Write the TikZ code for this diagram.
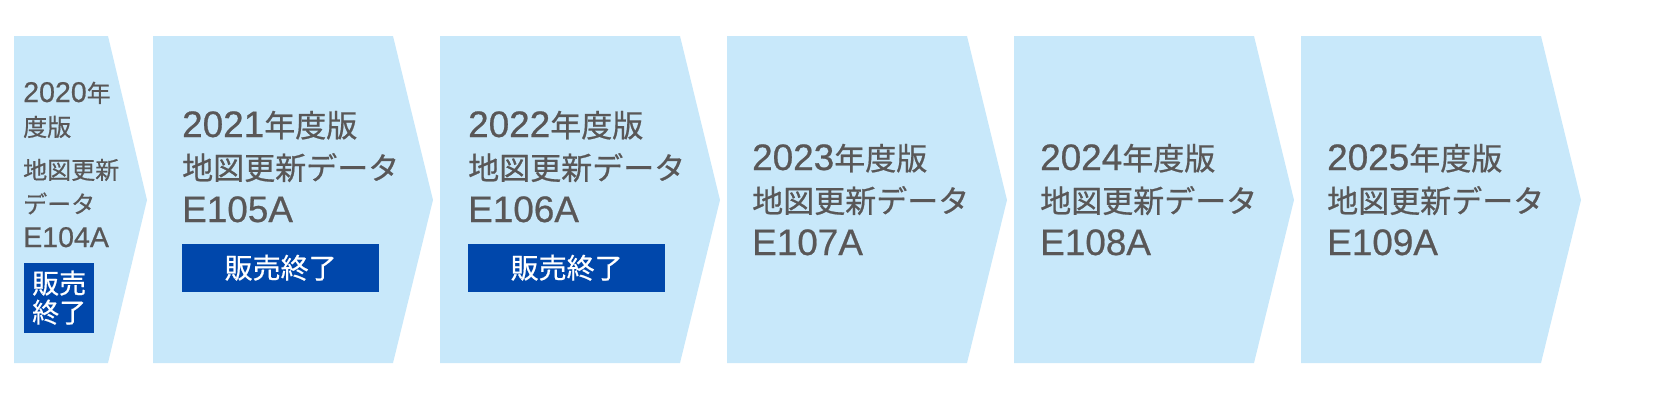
\documentclass[tikz,border=0pt]{standalone}
\usepackage{fontspec}
\setmainfont{Liberation Sans}[Scale=1.19, FakeBold=0.6]
\newfontfamily\jpfont{Noto Sans CJK JP}[FakeBold=0.6]
\newcommand\jp[1]{{\jpfont #1}}
\usetikzlibrary{positioning}
\definecolor{stepblue}{HTML}{C8E8FA}
\definecolor{soldblue}{HTML}{0047AB}
\definecolor{labelgray}{HTML}{595757}

\begin{document}
\begin{tikzpicture}[x=1pt, y=-1pt]
\tikzstyle{year label}=[anchor=base west, align=left, inner sep=0, text=labelgray, font=\fontsize{31}{42.5}\selectfont]
\tikzstyle{small label}=[year label, font=\fontsize{24}{34}\selectfont]
\tikzstyle{sold box}=[fill=soldblue, text=white, inner sep=0, align=center, minimum width=197, minimum height=48, font=\fontsize{28}{30}\selectfont\jpfont]

\useasboundingbox (0,0) rectangle (1668,400);

% chevrons
\fill[stepblue] (14,36) -- (108,36) -- (147,200) -- (108,363) -- (14,363) -- cycle;
\foreach \x in {153,440,727,1014,1301}
  \fill[stepblue] (\x,36) -- ++(240,0) -- ++(40,164) -- ++(-40,163) -- ++(-240,0) -- cycle;

\node[small label] (t2020) at (23,247) {2020\jp{年}\\\jp{度版}\\[9pt]\jp{地図更新}\\\jp{データ}\\E104A};
\node[sold box, minimum width=70, minimum height=70, font=\fontsize{27}{29}\selectfont\jpfont, below=15pt of t2020.south west, anchor=north west, xshift=1pt] (b2020) {販売\\終了};

\node[year label] (t2021) at (182,222) {2021\jp{年度版}\\\jp{地図更新データ}\\E105A};
\node[sold box, below=21pt of t2021.south west, anchor=north west] (b2021) {販売終了};

\node[year label] (t2022) at (468,222) {2022\jp{年度版}\\\jp{地図更新データ}\\E106A};
\node[sold box, below=21pt of t2022.south west, anchor=north west] (b2022) {販売終了};

\node[year label] (t2023) at (752,255) {2023\jp{年度版}\\\jp{地図更新データ}\\E107A};
\node[year label] (t2024) at (1040,255) {2024\jp{年度版}\\\jp{地図更新データ}\\E108A};
\node[year label] (t2025) at (1327,255) {2025\jp{年度版}\\\jp{地図更新データ}\\E109A};
\end{tikzpicture}
\end{document}
